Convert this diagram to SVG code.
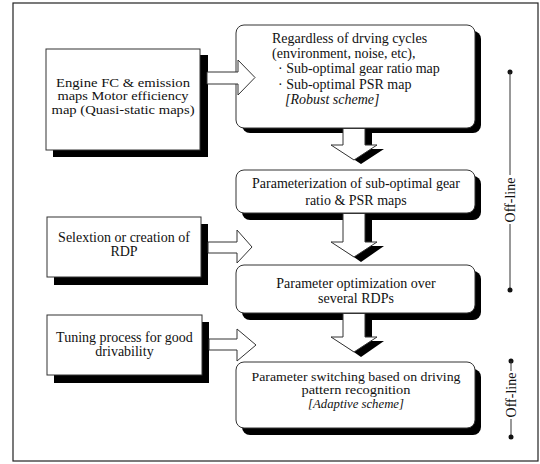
<svg xmlns="http://www.w3.org/2000/svg" width="540" height="464" viewBox="0 0 540 464">
<defs>
<style>
.t{font-family:"Liberation Serif","Times New Roman",serif;font-size:14px;fill:#111}
.s{font-size:12.5px}
.c{text-anchor:middle}
.i{font-style:italic}
.box{fill:#fff;stroke:#333;stroke-width:1}
.sh{fill:#000}
.ar{fill:#fff;stroke:#333;stroke-width:1;stroke-linejoin:miter}
.ln{stroke:#333;stroke-width:1;fill:none}
.dot{fill:#111}
</style>
</defs>
<rect x="13" y="3" width="525" height="458" fill="#fff" stroke="#222" stroke-width="1.2"/>

<g id="n-engine">
<rect class="sh" x="53" y="55" width="155" height="102"/>
<rect class="box" x="46" y="49" width="154" height="101"/>
<text class="t s c" x="123" y="86.5" textLength="134" lengthAdjust="spacingAndGlyphs">Engine FC &amp; emission</text>
<text class="t s c" x="123" y="100" textLength="131" lengthAdjust="spacingAndGlyphs">maps Motor efficiency</text>
<text class="t s c" x="123" y="113.5" textLength="143" lengthAdjust="spacingAndGlyphs">map (Quasi-static maps)</text>
</g>

<g id="n-select">
<rect class="sh" x="54" y="224" width="154" height="61"/>
<rect class="box" x="47" y="217" width="154" height="60"/>
<text class="t c" x="124" y="242">Selextion or creation of</text>
<text class="t c" x="124" y="256">RDP</text>
</g>

<g id="n-tuning">
<rect class="sh" x="54" y="322" width="155" height="61"/>
<rect class="box" x="47" y="315" width="155" height="60"/>
<text class="t c" x="124.5" y="342">Tuning process for good</text>
<text class="t c" x="124.5" y="356">drivability</text>
</g>

<g id="n-robust">
<rect class="sh" x="242" y="31" width="239" height="102" rx="8"/>
<rect class="box" x="236" y="25" width="239" height="103" rx="8"/>
<text class="t" x="272" y="43">Regardless of drving cycles</text>
<text class="t" x="272" y="58">(environment, noise, etc),</text>
<text class="t" x="278" y="73">· Sub-optimal gear ratio map</text>
<text class="t" x="278" y="88.5">· Sub-optimal PSR map</text>
<text class="t i" x="285" y="104">[Robust scheme]</text>
</g>

<g id="n-param">
<rect class="sh" x="242" y="176" width="239" height="44" rx="8"/>
<rect class="box" x="236" y="170" width="239" height="43" rx="8"/>
<text class="t c" x="356" y="188">Parameterization of sub-optimal gear</text>
<text class="t c" x="356" y="204.5">ratio &amp; PSR maps</text>
</g>

<g id="n-optim">
<rect class="sh" x="242" y="271" width="239" height="49" rx="8"/>
<rect class="box" x="236" y="265" width="239" height="48" rx="8"/>
<text class="t c" x="356" y="288">Parameter optimization over</text>
<text class="t c" x="356" y="303">several RDPs</text>
</g>

<g id="n-adaptive">
<rect class="sh" x="242" y="369" width="239" height="66" rx="8"/>
<rect class="box" x="236" y="362" width="239" height="66" rx="8"/>
<text class="t s c" x="356" y="380.5" textLength="209" lengthAdjust="spacingAndGlyphs">Parameter switching based on driving</text>
<text class="t s c" x="356" y="394" textLength="109" lengthAdjust="spacingAndGlyphs">pattern recognition</text>
<text class="t s c i" x="356" y="407.5" textLength="96" lengthAdjust="spacingAndGlyphs">[Adaptive scheme]</text>
</g>

<g id="connectors">
<polygon class="ar" points="207,72 238,72 238,60 255,77.5 238,95 238,84 207,84"/>
<polygon class="ar" points="208,242 237,242 237,230 252,247 237,263 237,253 208,253"/>
<polygon class="ar" points="209,339 237,339 237,329 256,345 237,361 237,350 209,350"/>

<polygon class="sh" points="350,133 372,133 372,149 384,149 361,164 338,149 350,149"/>
<polygon class="ar" points="343,128.5 365,128.5 365,145 377,145 354,160 331,145 343,145"/>

<polygon class="sh" points="350,219 372,219 372,246 384,246 361,262 338,246 350,246"/>
<polygon class="ar" points="343,213.5 365,213.5 365,242 377,242 354,257 331,242 343,242"/>

<polygon class="sh" points="350,319 372,319 372,341 384,341 361,357 338,341 350,341"/>
<polygon class="ar" points="343,313.5 365,313.5 365,337 377,337 354,352 331,337 343,337"/>
</g>

<g id="offline-1">
<circle class="dot" cx="510" cy="72" r="2.5"/>
<line class="ln" x1="510" y1="72" x2="510" y2="175"/>
<line class="ln" x1="510" y1="224" x2="510" y2="290"/>
<circle class="dot" cx="510" cy="290" r="2.5"/>
<text class="t c" transform="translate(510,200) rotate(-90)" y="5">Off-line</text>
</g>

<g id="offline-2">
<circle class="dot" cx="511" cy="361" r="2.5"/>
<line class="ln" x1="511" y1="361" x2="511" y2="371"/>
<line class="ln" x1="511" y1="419" x2="511" y2="437"/>
<circle class="dot" cx="511" cy="437" r="2.5"/>
<text class="t c" transform="translate(511,395) rotate(-90)" y="5">Off-line</text>
</g>
</svg>
